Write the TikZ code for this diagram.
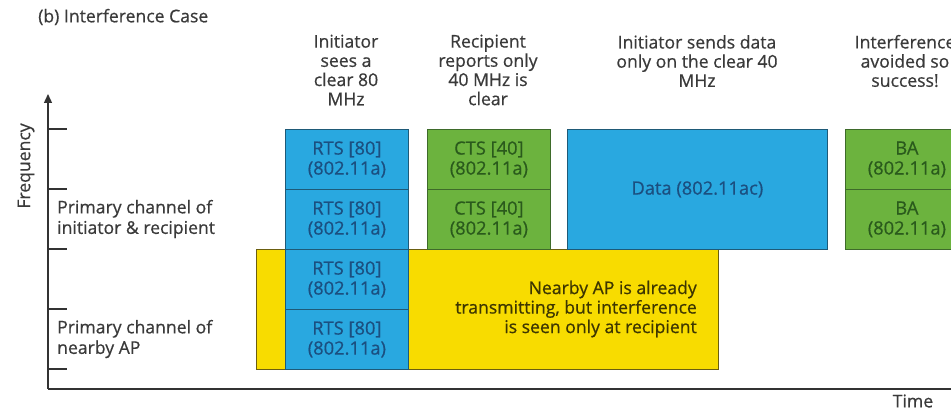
\documentclass[tikz,border=0pt]{standalone}
\usepackage{fontspec}
\setmainfont{Open Sans}[FakeBold=0.6]
\usetikzlibrary{arrows.meta}
\definecolor{cblue}{HTML}{29A8E0}
\definecolor{cbluetxt}{HTML}{1B4F80}
\definecolor{cblueedge}{HTML}{1E5A78}
\definecolor{cgreen}{HTML}{6CB33E}
\definecolor{cgreentxt}{HTML}{2A5A1C}
\definecolor{cgreenedge}{HTML}{3E6B2A}
\definecolor{cyellow}{HTML}{F8DC00}
\definecolor{cyellowtxt}{HTML}{3D3600}
\definecolor{cyellowedge}{HTML}{6B5E10}
\definecolor{ctext}{HTML}{3A3A3A}
\definecolor{caxis}{HTML}{333333}
\tikzset{
  x=1pt, y=-1pt,
  lbl/.style={font=\fontsize{17.6}{19.2}\selectfont, text=ctext, inner sep=0pt},
  cell/.style={anchor=north west, inner sep=0pt, minimum height=60pt, align=center,
    font=\fontsize{18.3}{20}\selectfont, line width=0.8pt},
  bluecell/.style={cell, fill=cblue, draw=cblueedge, text=cbluetxt, minimum width=123pt},
  greencell/.style={cell, fill=cgreen, draw=cgreenedge, text=cgreentxt, minimum width=123pt},
  axisline/.style={line width=1.4pt, draw=caxis},
}
\begin{document}
\begin{tikzpicture}
\useasboundingbox (0,0) rectangle (951,411);
% title
\node[lbl, anchor=west] (title) at (38,17) {(b) Interference Case};
% headers
\node[lbl, align=center] (h1) at (346,70) {Initiator\\sees a\\clear 80\\MHz};
\node[lbl, align=center] (h2) at (488,70) {Recipient\\reports only\\40 MHz is\\clear};
\node[lbl, align=center] (h3) at (697,61) {Initiator sends data\\only on the clear 40\\MHz};
\node[lbl, align=center] (h4) at (905,61) {Interference\\avoided so\\success!};
% axes
\coordinate (o) at (48,389);
\coordinate (ytop) at (48,94);
\coordinate (xend) at (955,389);
\draw[axisline, -{Triangle[length=9pt,width=8pt]}] (o) -- (ytop);
\draw[axisline] (o) -- (xend);
\foreach \yy in {129,189,249,309,369}{
  \draw[axisline] (48,\yy) -- (67,\yy);
}
\node[lbl, rotate=90] (freq) at (26,166) {Frequency};
\node[lbl] (time) at (913,401) {Time};
\node[lbl, anchor=west, align=left, font=\fontsize{17.6}{20.5}\selectfont] (pc1) at (57,219) {Primary channel of\\initiator \& recipient};
\node[lbl, anchor=west, align=left, font=\fontsize{17.6}{20.5}\selectfont] (pc2) at (57,339) {Primary channel of\\nearby AP};
% yellow interference block
\node[anchor=north west, fill=cyellow, draw=cyellowedge, line width=0.8pt, minimum width=462pt, minimum height=120pt, inner sep=0pt] (yel) at (256,249) {};
\node[font=\fontsize{17.6}{19.5}\selectfont, text=cyellowtxt, align=right, anchor=east, inner sep=0pt] (yeltxt) at (697,309) {Nearby AP is already\\transmitting, but interference\\is seen only at recipient};
% RTS column
\node[bluecell] (rts1) at (285,129) {RTS [80]\\(802.11a)};
\node[bluecell] (rts2) at (285,189) {RTS [80]\\(802.11a)};
\node[bluecell] (rts3) at (285,249) {RTS [80]\\(802.11a)};
\node[bluecell] (rts4) at (285,309) {RTS [80]\\(802.11a)};
% CTS column
\node[greencell] (cts1) at (427,129) {CTS [40]\\(802.11a)};
\node[greencell] (cts2) at (427,189) {CTS [40]\\(802.11a)};
% Data
\node[cell, fill=cblue, draw=cblueedge, text=cbluetxt, minimum width=260pt, minimum height=120pt] (data) at (567,129) {Data (802.11ac)};
% BA column
\node[greencell] (ba1) at (845,129) {BA\\(802.11a)};
\node[greencell] (ba2) at (845,189) {BA\\(802.11a)};
\end{tikzpicture}
\end{document}
